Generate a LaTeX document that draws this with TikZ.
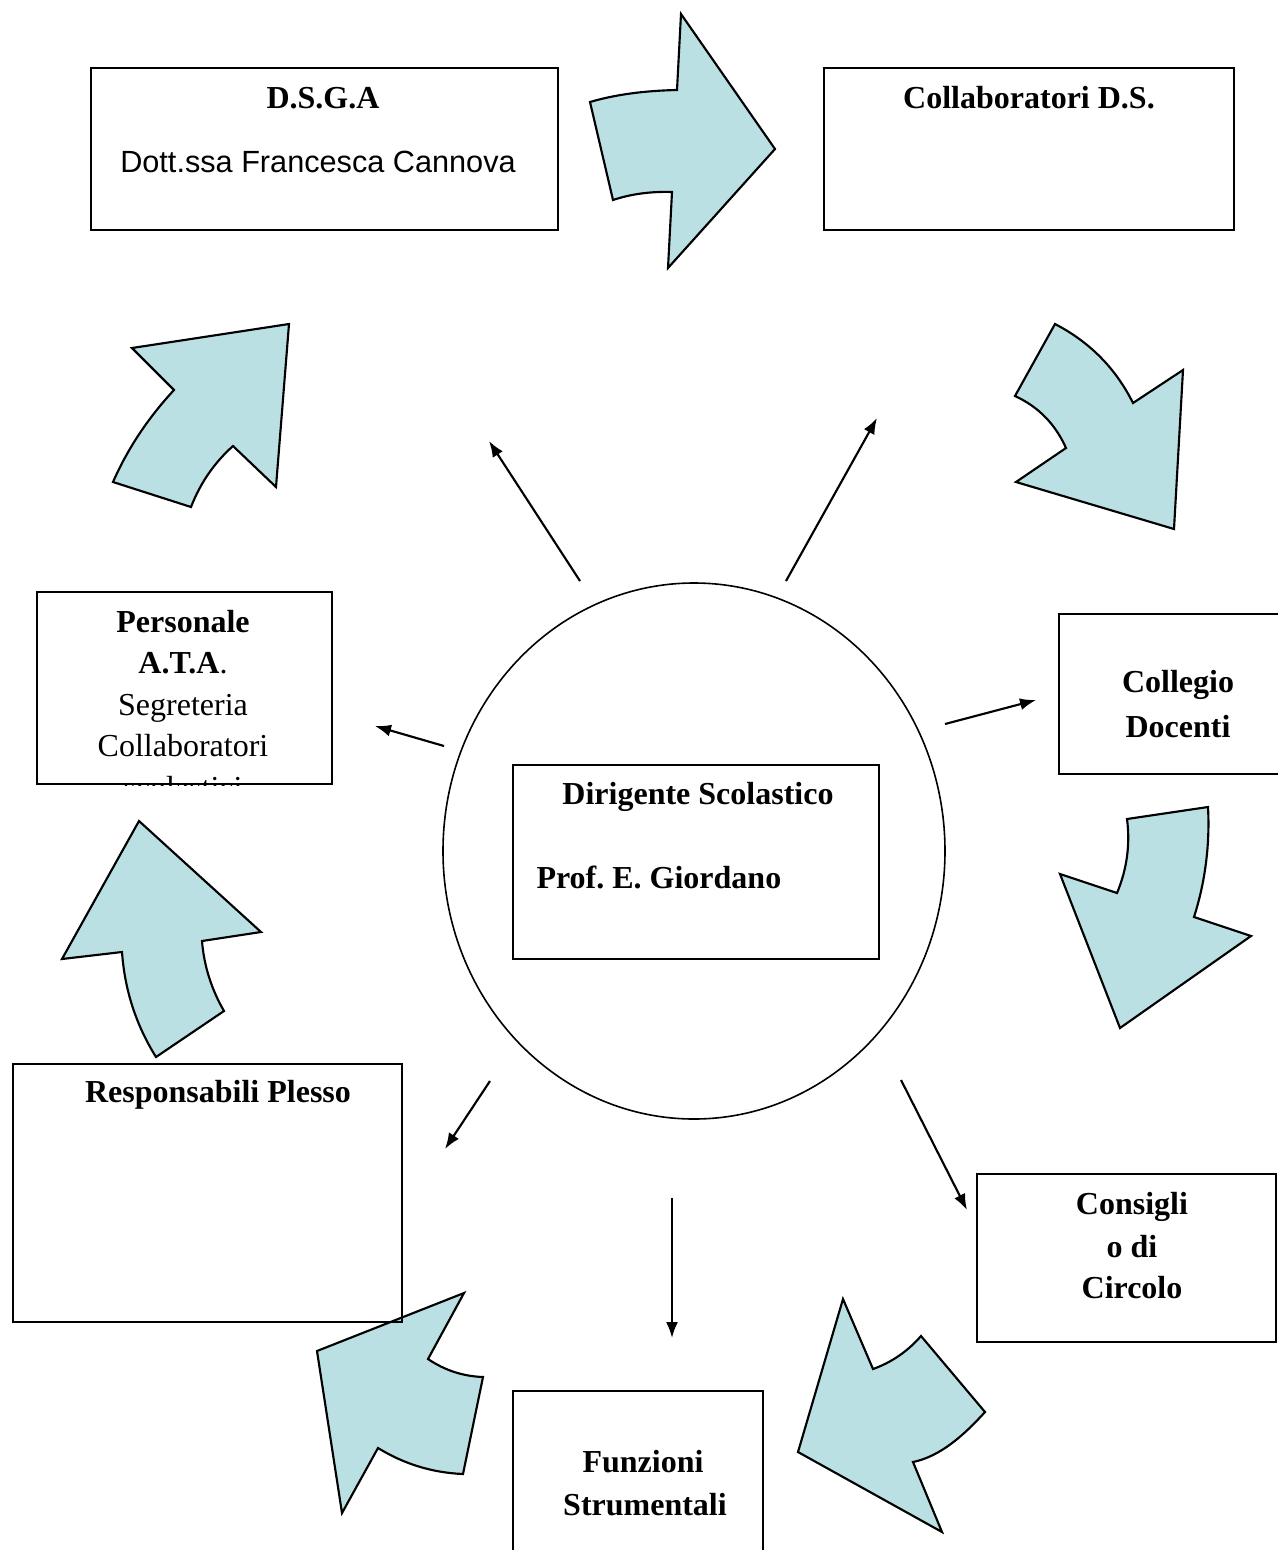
\documentclass[tikz,border=0pt]{standalone}
\usepackage{fontspec}
\setmainfont{Liberation Serif}
\newfontfamily\tahoma{Liberation Sans}
\usetikzlibrary{arrows.meta,shapes.geometric}
\definecolor{arrowblue}{HTML}{BBE0E3}

\begin{document}
\begin{tikzpicture}[x=0.375pt,y=-0.375pt,
  font=\fontsize{12}{15}\selectfont,
  size/.style 2 args={minimum width=#1*0.375pt,minimum height=#2*0.375pt},
  box/.style={draw,line width=0.8pt,anchor=north west,inner sep=0pt},
  txt/.style={inner sep=0pt,anchor=base},
  bftxt/.style={txt,font=\fontsize{12}{15}\selectfont\bfseries},
  bentarrow/.style={fill=arrowblue,draw=black,line width=0.8pt,line join=miter},
  ray/.style={line width=0.8pt,-{Latex[length=6pt,width=4.5pt]}}]
\useasboundingbox (0,0) rectangle (1277,1550);

% curved block arrows round the circle
\filldraw[bentarrow] (590,102) .. controls (614.7,94.7) and (643.7,90.7) .. (677,90) -- (681,14)
  -- (775,149) -- (668,268) -- (672,192) .. controls (650.7,191.3) and (631,194) .. (613,200) -- cycle;
\filldraw[bentarrow] (1055,324) .. controls (1089.7,342) and (1115.7,368.3) .. (1133,403) -- (1183,370)
  -- (1174,529) -- (1016,482) -- (1066,448) .. controls (1055.3,424) and (1038.3,406.7) .. (1015,396) -- cycle;
\filldraw[bentarrow] (1251,936) -- (1120,1028) -- (1060,874) -- (1117,893)
  .. controls (1127,869) and (1130.3,844.3) .. (1127,819) -- (1208,807)
  .. controls (1210,844.3) and (1205.3,881.7) .. (1194,917) -- cycle;
\filldraw[bentarrow] (843,1299) -- (873,1369) .. controls (891.7,1362.3) and (907.7,1351.3) .. (921,1336)
  -- (985,1412) .. controls (965,1434) and (941,1456.3) .. (913,1462) -- (942,1532) -- (798,1452) -- cycle;
\filldraw[bentarrow] (464,1293) -- (428,1359) .. controls (444.7,1370.3) and (463,1376.3) .. (483,1377)
  -- (463,1474) .. controls (432.3,1472.7) and (404,1464) .. (378,1448) -- (342,1513) -- (317,1351) -- cycle;
\filldraw[bentarrow] (139,821) -- (261,932) -- (202,941) .. controls (204,965.7) and (211.3,989) .. (224,1011)
  -- (156,1057) .. controls (136,1025) and (124.7,990) .. (122,952) -- (62,959) -- cycle;
\filldraw[bentarrow] (289,324) -- (132,348) -- (174,390) .. controls (148.7,417.3) and (128.3,447.3) .. (113,482)
  -- (191,507) .. controls (200.3,483) and (214.3,462.7) .. (233,446) -- (276,487) -- cycle;

% boxes
\node[box,size={467}{162}] (dsga) at (90,67) {};
\node[bftxt] (dsgatitle) at (323,108) {D.S.G.A};
\node[txt,font=\tahoma\fontsize{11.5}{14}\selectfont] (dsganame) at (318,172) {Dott.ssa Francesca Cannova};

\node[box,size={410}{162}] (collab) at (823,67) {};
\node[bftxt] (collabtitle) at (1029,108) {Collaboratori D.S.};

\node[box,size={295}{192}] (ata) at (36,591) {};
\node[bftxt] (ata1) at (183,632) {Personale};
\node[txt] (ata2) at (183,673) {\textbf{A.T.A}.};
\node[txt] (ata3) at (183,715) {Segreteria};
\node[txt] (ata4) at (183,756) {Collaboratori};
\begin{scope}
  \clip (ata.south west) rectangle (ata.north east);
  \node[txt] (ata5) at (183,798) {scolastici};
\end{scope}

\node[box,size={240}{160}] (collegio) at (1058,613) {};
\node[bftxt] (collegio1) at (1178,692) {Collegio};
\node[bftxt] (collegio2) at (1178,737) {Docenti};

% the head in the middle
\node[draw,ellipse,line width=0.6pt,inner sep=0pt,size={502}{536}] (ds) at (694,851) {};
\node[box,size={366}{194}] (dirig) at (512,764) {};
\node[bftxt] (dirigtitle) at (698,804) {Dirigente Scolastico};
\node[bftxt,anchor=base west] (dirigname) at (536,888) {Prof.\ E.\ Giordano};

\node[box,size={389}{258}] (resp) at (12,1063) {};
\node[bftxt] (resptitle) at (218,1102) {Responsabili Plesso};

\node[box,size={299}{168}] (consiglio) at (976,1173) {};
\node[bftxt] (consiglio1) at (1132,1214) {Consigli};
\node[bftxt] (consiglio2) at (1132,1257) {o di};
\node[bftxt] (consiglio3) at (1132,1298) {Circolo};

\node[box,size={250}{200}] (funz) at (512,1390) {};
\node[bftxt] (funz1) at (643,1472) {Funzioni};
\node[bftxt] (funz2) at (645,1515) {Strumentali};

% rays from the circle
\coordinate (s1) at (580,581);  \coordinate (e1) at (489,441);
\coordinate (s2) at (786,581);  \coordinate (e2) at (877,418);
\coordinate (s3) at (444,746);  \coordinate (e3) at (375,726);
\coordinate (s4) at (945,724);  \coordinate (e4) at (1036,700);
\coordinate (s5) at (490,1081); \coordinate (e5) at (445,1149);
\coordinate (s6) at (901,1080); \coordinate (e6) at (967,1210);
\coordinate (s7) at (672,1198); \coordinate (e7) at (672,1338);
\foreach \i in {1,...,7}
  \draw[ray] (s\i) -- (e\i);
\end{tikzpicture}
\end{document}
